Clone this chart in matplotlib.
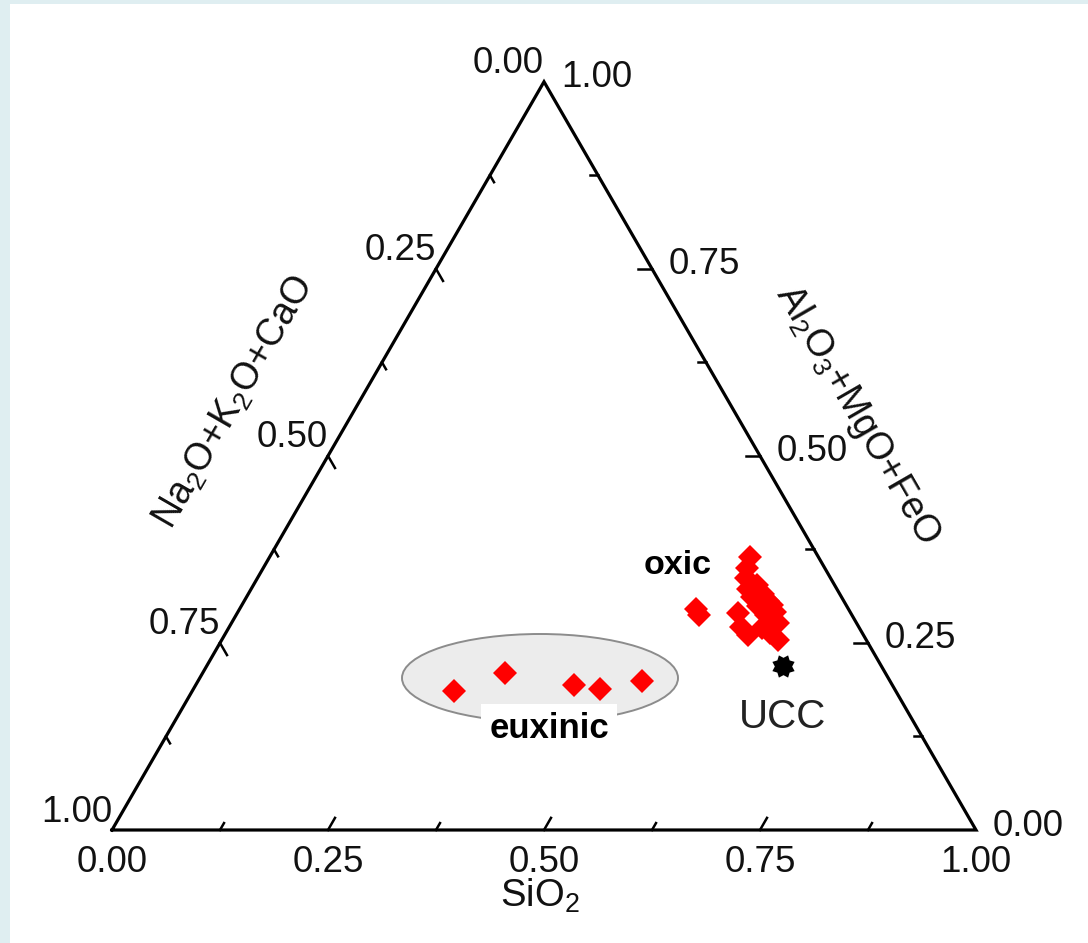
import numpy as np
import matplotlib
matplotlib.use('Agg')
import matplotlib.pyplot as plt
from matplotlib.patches import Ellipse, Rectangle

plt.rcParams['font.family'] = ['Liberation Sans', 'DejaVu Sans']
plt.rcParams['mathtext.default'] = 'regular'

# ---- data (ternary fractions) ----
# components: SiO2, Na2O+K2O+CaO, Al2O3+MgO+FeO
eux_sio2 = [0.303, 0.350, 0.438, 0.470, 0.514]
eux_nkc  = [0.511, 0.440, 0.368, 0.341, 0.287]
eux_amf  = [0.186, 0.210, 0.194, 0.189, 0.199]

oxic_sio2 = [0.556, 0.560, 0.565, 0.575, 0.583, 0.585, 0.596, 0.606, 0.613, 0.598, 0.580,
             0.593, 0.606, 0.617, 0.613, 0.632, 0.630, 0.644, 0.529, 0.536, 0.622]
oxic_nkc  = [0.079, 0.090, 0.098, 0.103, 0.089, 0.104, 0.088, 0.088, 0.086, 0.103, 0.130,
             0.136, 0.133, 0.113, 0.100, 0.091, 0.107, 0.102, 0.176, 0.177, 0.087]
oxic_amf  = [0.365, 0.350, 0.337, 0.322, 0.328, 0.311, 0.316, 0.306, 0.301, 0.299, 0.290,
             0.271, 0.261, 0.270, 0.287, 0.277, 0.263, 0.254, 0.295, 0.287, 0.291]

ucc_sio2, ucc_nkc, ucc_amf = [0.667], [0.114], [0.219]

major_ticks = [0.0, 0.25, 0.5, 0.75, 1.0]
minor_ticks = [0.125, 0.375, 0.625, 0.875]
tick_labels = ['0.00', '0.25', '0.50', '0.75', '1.00']

S3 = np.sqrt(3) / 2


def tern(sio2, nkc, amf):
    a = np.asarray(sio2, float)
    c = np.asarray(amf, float)
    return a + c / 2, c * S3


W, H = 1088, 943
fig = plt.figure(figsize=(W / 100, H / 100), dpi=100)
fig.patch.set_facecolor('#dfeef1')
fig.add_artist(Rectangle((10 / W, 0), (W - 10) / W, (H - 4) / H, transform=fig.transFigure,
                         facecolor='white', edgecolor='none', zorder=0))
ax = fig.add_axes([0, 0, 1, 1])
ax.patch.set_visible(False)
ax.set_axis_off()
sc = 864.0
ax.set_xlim(-112 / sc, (W - 112) / sc)
ax.set_ylim(-(H - 830) / sc, 830 / sc)

# triangle
tx, ty = tern([0, 1, 0, 0], [1, 0, 0, 1], [0, 0, 1, 0])
ax.plot(tx, ty, color='black', lw=2.3, solid_joinstyle='miter', zorder=3)

# ticks
L_maj, L_min = 14 / sc, 8 / sc
d_bot = np.array([0.5, S3])
d_left = np.array([0.5, -S3])
d_right = np.array([-1.0, 0.0])
for vals, L in ((major_ticks[1:-1], L_maj), (minor_ticks, L_min)):
    for v in vals:
        x0, y0 = tern([v], [1 - v], [0])
        ax.plot([x0[0], x0[0] + L * d_bot[0]], [y0[0], y0[0] + L * d_bot[1]], color='black', lw=1.8, zorder=3)
        x0, y0 = tern([0], [v], [1 - v])
        ax.plot([x0[0], x0[0] + L * d_left[0]], [y0[0], y0[0] + L * d_left[1]], color='black', lw=1.8, zorder=3)
        x0, y0 = tern([1 - v], [0], [v])
        ax.plot([x0[0], x0[0] + L * d_right[0]], [y0[0], y0[0] + L * d_right[1]], color='black', lw=1.8, zorder=3)

fs = 26.5
tc = '#111111'
for v, lab in zip(major_ticks, tick_labels):
    x0, y0 = tern([v], [1 - v], [0])
    ax.text(x0[0], -32 / sc, lab, ha='center', va='center', fontsize=fs, color=tc)
    x0, y0 = tern([0], [v], [1 - v])
    ax.text(x0[0], y0[0] + 18 / sc, lab, ha='right', va='center', fontsize=fs, color=tc)
    x0, y0 = tern([1 - v], [0], [v])
    ax.text(x0[0] + 17 / sc, y0[0] + 4 / sc, lab, ha='left', va='center', fontsize=fs, color=tc)

# axis titles
ax.text(428 / sc, -77 / sc, 'SiO$_2$', ha='center', va='baseline', fontsize=27.5, color=tc)
ax.text(122 / sc, 427 / sc, 'Na$_2$O+K$_2$O+CaO', ha='center', va='center', rotation=60,
        rotation_mode='anchor', fontsize=27, color=tc)
ax.text(746 / sc, 415 / sc, 'Al$_2$O$_3$+MgO+FeO', ha='center', va='center', rotation=-60,
        rotation_mode='anchor', fontsize=27, color=tc)

# euxinic ellipse
ax.add_patch(Ellipse((428 / sc, 152 / sc), 276 / sc, 88 / sc, facecolor='#ececec',
                     edgecolor='#8c8c8c', lw=1.4, zorder=1))

ex, ey = tern(eux_sio2, eux_nkc, eux_amf)
ax.plot(ex, ey, 'D', color='#ff0000', ms=12.4, mew=0, ls='none', zorder=4)
ox, oy = tern(oxic_sio2, oxic_nkc, oxic_amf)
ax.plot(ox, oy, 'D', color='#ff0000', ms=12.4, mew=0, ls='none', zorder=4)

# UCC star
ang = np.linspace(0, 2 * np.pi, 17)[:-1] + np.pi / 8
rad = np.where(np.arange(16) % 2 == 0, 1.0, 0.72)
star = np.column_stack([rad * np.cos(ang), rad * np.sin(ang)])
star = np.vstack([star, star[:1]])
ux, uy = tern(ucc_sio2, ucc_nkc, ucc_amf)
ax.plot(ux, uy, marker=star, color='black', ms=16, mew=0, ls='none', zorder=4)

# labels
ax.text(566 / sc, 265 / sc, 'oxic', ha='center', va='center', fontsize=24.5,
        fontweight='bold', color='black', zorder=5)
ax.text(437 / sc, 102 / sc, 'euxinic', ha='center', va='center', fontsize=25,
        fontweight='bold', color='black', zorder=5,
        bbox=dict(boxstyle='square,pad=0.22', facecolor='white', edgecolor='none'))
ax.text(671 / sc, 113 / sc, 'UCC', ha='center', va='center', fontsize=29,
        color='#222222', zorder=5)

fig.savefig('out.png', dpi=100, facecolor=fig.get_facecolor())
